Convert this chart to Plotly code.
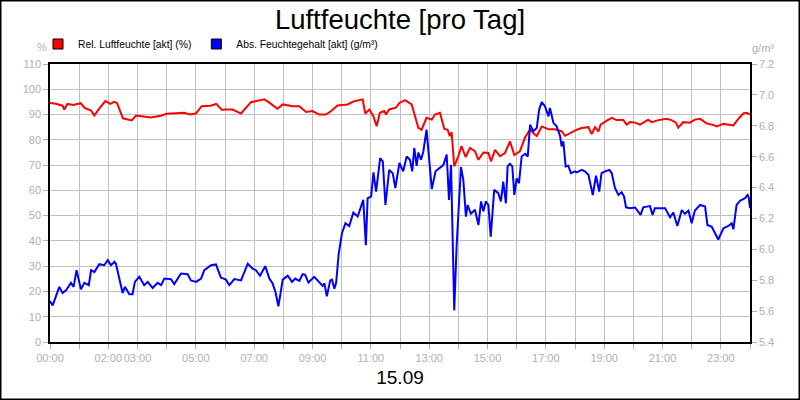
import plotly.graph_objects as go

title = "Luftfeuchte [pro Tag]"
date_label = "15.09"
rel_name = "Rel. Luftfeuchte [akt] (%)"
abs_name = "Abs. Feuchtegehalt [akt] (g/m³)"

# relative humidity, hour of day -> %
rel_hours = [0.00, 0.20, 0.43, 0.49, 0.60, 0.80, 1.05, 1.20, 1.40, 1.52, 1.70, 1.90, 2.07, 2.20, 2.30,
             2.50, 2.80, 2.95, 3.20, 3.45, 3.80, 4.00, 4.60, 4.80, 5.00, 5.20, 5.50, 5.70, 5.90, 6.00,
             6.26, 6.55, 6.89, 7.35, 7.52, 7.80, 7.98, 8.32, 8.55, 8.78, 9.00, 9.23, 9.46, 9.63, 9.86,
             10.20, 10.43, 10.72, 10.81, 10.95, 11.09, 11.20, 11.31, 11.46, 11.52, 11.63, 11.86, 11.98,
             12.17, 12.40, 12.63, 12.74, 12.91, 13.09, 13.20, 13.37, 13.52, 13.63, 13.71, 13.77, 13.86,
             14.00, 14.11, 14.25, 14.40, 14.57, 14.69, 14.86, 15.03, 15.12, 15.26, 15.43, 15.60, 15.77,
             15.92, 16.11, 16.29, 16.46, 16.63, 16.69, 16.86, 17.09, 17.31, 17.54, 17.66, 18.00, 18.06,
             18.23, 18.46, 18.57, 18.69, 18.80, 18.88, 19.09, 19.26, 19.43, 19.66, 19.77, 19.89, 20.06,
             20.23, 20.51, 20.63, 20.86, 21.14, 21.31, 21.46, 21.54, 21.71, 21.94, 22.11, 22.29, 22.51,
             22.74, 22.86, 23.09, 23.31, 23.43, 23.60, 23.77, 23.89, 24.00]
rel_values = [94.6, 94.3, 93.5, 92.0, 94.2, 93.8, 94.5, 92.5, 91.7, 89.6, 92.5, 95.3, 94.2, 95.0, 94.5,
              88.5, 87.7, 89.6, 89.2, 88.8, 89.5, 90.3, 90.7, 90.0, 90.4, 93.3, 93.5, 94.2, 91.8, 92.0,
              92.0, 90.4, 94.9, 96.0, 94.7, 92.3, 94.0, 93.3, 93.3, 91.0, 91.4, 90.0, 90.0, 91.3, 93.6,
              94.0, 95.3, 96.0, 90.4, 92.0, 89.3, 85.4, 90.7, 91.4, 90.0, 92.0, 92.7, 94.6,
              95.7, 94.0, 84.7, 84.0, 88.7, 88.0, 90.0, 90.7, 84.3, 84.0, 81.5, 83.0, 69.5,
              73.5, 77.5, 73.2, 76.8, 75.5, 72.1, 75.0, 74.8, 71.5, 76.0, 73.5, 74.8, 79.4,
              74.0, 75.4, 81.0, 84.0, 82.0, 81.5, 85.3, 84.2, 84.2, 83.4, 81.6, 83.8, 84.0,
              84.7, 85.0, 82.3, 85.0, 83.3, 86.0, 87.6, 88.7, 87.8, 87.8, 86.0, 87.0, 86.8,
              86.0, 88.0, 87.0, 87.8, 88.3, 87.8, 86.8, 84.8, 87.0, 86.8, 88.0, 88.3, 86.5,
              85.9, 85.3, 86.3, 85.9, 85.7, 88.3, 90.4, 90.7, 90.0]

# absolute humidity, hour of day -> g/m³
abs_hours = [0.00, 0.09, 0.32, 0.43, 0.55, 0.72, 0.81, 0.91, 1.06, 1.18, 1.33, 1.41, 1.52, 1.69, 1.86,
             1.98, 2.09, 2.21, 2.26, 2.38, 2.49, 2.57, 2.72, 2.83, 2.91, 3.06, 3.23, 3.35, 3.52, 3.69,
             3.81, 3.92, 4.15, 4.26, 4.49, 4.72, 4.83, 5.01, 5.18, 5.29, 5.52, 5.69, 5.86, 5.98,
             6.03, 6.15, 6.32, 6.55, 6.78, 6.95, 7.06, 7.20, 7.38, 7.52, 7.63, 7.73, 7.83, 7.98,
             8.15, 8.30, 8.41, 8.55, 8.66, 8.75, 8.86, 9.06, 9.23, 9.35, 9.41, 9.49, 9.61, 9.67,
             9.75, 9.81, 9.90, 10.01, 10.13, 10.26, 10.40, 10.55, 10.74, 10.83, 10.89, 11.01, 11.09,
             11.18, 11.32, 11.41, 11.50, 11.63, 11.75, 11.84, 11.98,
             12.11, 12.23, 12.34, 12.42, 12.49, 12.57, 12.63, 12.72, 12.80, 12.91, 13.09, 13.22, 13.37,
             13.49, 13.60, 13.68, 13.75, 13.86, 13.94, 14.09, 14.17, 14.26, 14.32, 14.43, 14.57, 14.69,
             14.78, 14.86, 14.94, 15.03, 15.11, 15.23, 15.37, 15.46, 15.54, 15.63, 15.69, 15.77, 15.85,
             15.92, 16.00, 16.08, 16.17, 16.29, 16.38, 16.46, 16.57, 16.69, 16.77, 16.86, 16.97, 17.09,
             17.14, 17.26, 17.37, 17.49, 17.54, 17.60, 17.68, 17.77, 17.86, 18.00,
             18.06, 18.23, 18.34, 18.46, 18.61, 18.72, 18.83, 18.91, 19.03, 19.18, 19.26, 19.37, 19.49,
             19.60, 19.68, 19.75, 19.89, 20.06, 20.25, 20.34, 20.57, 20.66, 20.74, 20.91, 21.09, 21.26,
             21.37, 21.51, 21.66, 21.77, 21.89, 22.00, 22.11, 22.29, 22.46, 22.54, 22.69, 22.91, 23.09,
             23.26, 23.37, 23.43, 23.54, 23.66, 23.83, 23.92, 23.96, 24.00]
abs_values = [5.665, 5.637, 5.757, 5.717, 5.735, 5.783, 5.757, 5.865, 5.742, 5.783, 5.768, 5.865, 5.853, 5.904, 5.897,
              5.930, 5.897, 5.919, 5.907, 5.804, 5.717, 5.757, 5.709, 5.709, 5.789, 5.822, 5.768, 5.789, 5.750, 5.783,
              5.768, 5.811, 5.807, 5.775, 5.843, 5.839, 5.799, 5.789, 5.811, 5.865, 5.897, 5.902, 5.817, 5.809,
              5.804, 5.768, 5.807, 5.799, 5.907, 5.875, 5.865, 5.829, 5.891, 5.811, 5.780, 5.724, 5.631, 5.804,
              5.829, 5.789, 5.811, 5.796, 5.839, 5.835, 5.785, 5.822, 5.783, 5.763, 5.780, 5.696, 5.799, 5.804,
              5.745, 5.783, 5.973, 6.104, 6.169, 6.151, 6.238, 6.212, 6.320, 6.027, 6.331, 6.341, 6.498,
              6.374, 6.591, 6.570, 6.287, 6.514, 6.493, 6.397, 6.559,
              6.505, 6.601, 6.580, 6.505, 6.657, 6.541, 6.627, 6.580, 6.634, 6.775, 6.390, 6.505, 6.532,
              6.547, 6.613, 6.320, 6.547, 5.605, 6.017, 6.532, 6.451, 6.212, 6.287, 6.230, 6.256, 6.158,
              6.310, 6.246, 6.310, 6.287, 6.082, 6.385, 6.364, 6.310, 6.439, 6.298, 6.537, 6.554, 6.537,
              6.352, 6.460, 6.428, 6.601, 6.619, 6.601, 6.807, 6.765, 6.786, 6.905, 6.953, 6.927, 6.861,
              6.915, 6.819, 6.797, 6.732, 6.667, 6.699, 6.537, 6.541, 6.493, 6.505,
              6.498, 6.514, 6.505, 6.483, 6.352, 6.477, 6.374, 6.493, 6.505, 6.514, 6.493, 6.397, 6.352,
              6.369, 6.343, 6.272, 6.266, 6.271, 6.223, 6.272, 6.280, 6.223, 6.266, 6.266, 6.266, 6.207,
              6.238, 6.151, 6.254, 6.230, 6.251, 6.169, 6.251, 6.287, 6.277, 6.158, 6.146, 6.064, 6.136,
              6.151, 6.169, 6.130, 6.287, 6.315, 6.331, 6.352, 6.333, 6.266]

hour_ticks = list(range(25))
hour_labels = {0: "00:00", 2: "02:00", 3: "03:00", 5: "05:00", 7: "07:00", 9: "09:00", 11: "11:00",
               13: "13:00", 15: "15:00", 17: "17:00", 19: "19:00", 21: "21:00", 23: "23:00"}

W, H = 800, 400
ML, MR, MT, MB = 50, 50, 64, 58
PW, PH = W - ML - MR, H - MT - MB
GRID = "#c0c0c0"
TICK = "#b0b0b0"
FONT = "Liberation Sans, Arial, sans-serif"

fig = go.Figure()

# lines (legend drawn with square markers below)
fig.add_trace(go.Scatter(x=rel_hours, y=rel_values, mode="lines", showlegend=False,
                         line=dict(color="#ff0000", width=2)))
fig.add_trace(go.Scatter(x=abs_hours, y=abs_values, mode="lines", yaxis="y2", showlegend=False,
                         line=dict(color="#0000ff", width=2)))

for name, col in [(rel_name, "#ff0000"), (abs_name, "#0000ff")]:
    fig.add_trace(go.Scatter(x=[None], y=[None], mode="markers", name=name,
                             marker=dict(symbol="square", size=10, color=col,
                                         line=dict(color="black", width=1))))

axis_common = dict(ticks="outside", ticklen=5, tickcolor=TICK, tickfont=dict(color=TICK, size=11),
                   zeroline=False, automargin=False)

fig.update_layout(
    width=W, height=H,
    margin=dict(l=ML, r=MR, t=MT, b=MB, autoexpand=False),
    paper_bgcolor="white", plot_bgcolor="white",
    font=dict(family=FONT, size=11, color="black"),
    title=dict(text=title, x=0.5, xanchor="center", y=1 - 19 / H, yanchor="middle",
               font=dict(size=27.5, color="black")),
    legend=dict(orientation="h", x=(38 - ML) / PW, xanchor="left", y=1 + 20 / PH, yanchor="middle",
                font=dict(size=10.3, color="black"), bgcolor="rgba(0,0,0,0)"),
    xaxis=dict(range=[0, 24], tickvals=hour_ticks, tickangle=0,
               ticktext=[hour_labels.get(h, "") for h in hour_ticks],
               showgrid=True, gridcolor=GRID, gridwidth=1,
               showline=True, linecolor="black", linewidth=1.5, mirror=True,
               title=dict(text=date_label, font=dict(size=19, color="black"), standoff=8),
               **axis_common),
    yaxis=dict(range=[0, 110], dtick=10, showgrid=True, gridcolor=GRID, gridwidth=1,
               showline=True, linecolor="black", linewidth=1.5, mirror=True,
               **axis_common),
    yaxis2=dict(range=[5.4, 7.2], dtick=0.2, tickformat=".1f", overlaying="y", side="right",
                showgrid=False, showline=True, linecolor="black", linewidth=1.5,
                **axis_common),
)

# unit labels above the axes
fig.add_annotation(text="%", xref="paper", yref="paper", x=-8 / PW, y=1 + 17 / PH,
                   showarrow=False, xanchor="center", yanchor="middle", font=dict(color=TICK, size=11))
fig.add_annotation(text="g/m³", xref="paper", yref="paper", x=1 + 13 / PW, y=1 + 16 / PH,
                   showarrow=False, xanchor="center", yanchor="middle", font=dict(color=TICK, size=11))

# black frame around the whole picture
fig.add_shape(type="rect", xref="paper", yref="paper",
              x0=-(ML - 0.75) / PW, x1=1 + (MR - 0.75) / PW, y0=-(MB - 0.75) / PH, y1=1 + (MT - 0.75) / PH,
              line=dict(color="black", width=1.5), fillcolor="rgba(0,0,0,0)", layer="above")

# the page body has a default margin; drop it so the chart sits at the window corner
fig.write_html("out.html", config={"displayModeBar": False},
               post_script="document.body.style.margin='0';")
